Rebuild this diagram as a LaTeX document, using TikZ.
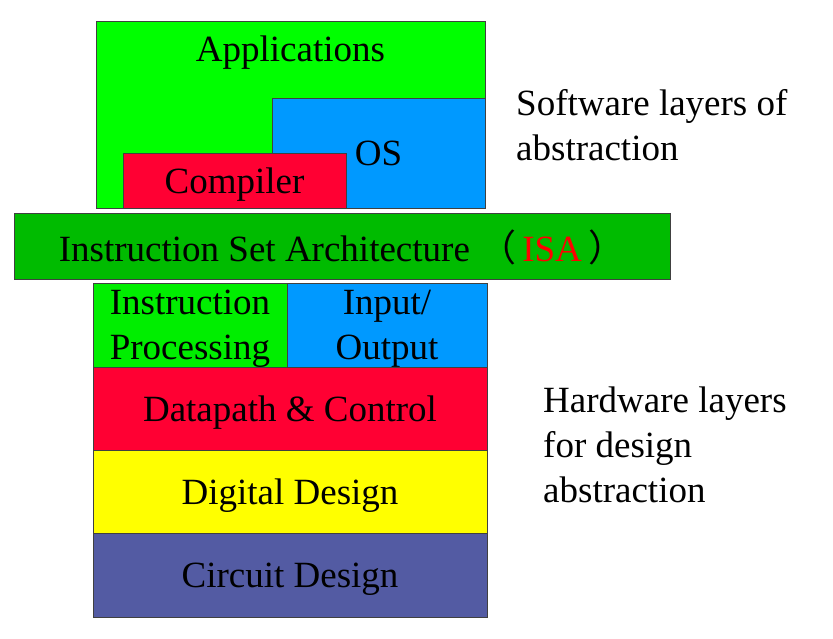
\documentclass[tikz,border=0pt]{standalone}
\usepackage{fontspec}
\setmainfont{Liberation Serif}
\newfontfamily\cjk{Noto Sans CJK SC}
\definecolor{appgreen}{RGB}{0,255,0}
\definecolor{procgreen}{RGB}{0,238,0}
\definecolor{isagreen}{RGB}{0,187,0}
\definecolor{osblue}{RGB}{0,153,255}
\definecolor{layerred}{RGB}{255,0,51}
\definecolor{layeryellow}{RGB}{255,255,0}
\definecolor{circuitblue}{RGB}{83,91,163}
\tikzset{
    layer/.style={draw=black!75, line width=0.8pt, inner sep=0pt, outer sep=0pt,
        anchor=north west, align=center, text depth=0pt},
    sidetext/.style={anchor=west, align=left, inner sep=0pt}
}

\begin{document}
\begin{tikzpicture}[x=1pt, y=-1pt, font=\fontsize{37}{45}\selectfont]
    \useasboundingbox (0,0) rectangle (833,639);
    % software layers
    \node[layer, fill=appgreen, minimum width=389, minimum height=187] (app) at (96,21) {};
    \node (apptext) at ([yshift=-32]app.north) {Applications};
    \node[layer, fill=osblue, minimum width=213, minimum height=110] (os) at (272,98) {OS};
    \node[layer, fill=layerred, minimum width=223, minimum height=55] (comp) at (123,153) {Compiler};
    % ISA
    \node[layer, fill=isagreen, minimum width=656, minimum height=66] (isa) at (14,213)
        {Instruction Set Architecture\ {\cjk（}\,\textcolor{red}{ISA}\,{\cjk）}};
    % hardware layers
    \node[layer, fill=procgreen, minimum width=194, minimum height=84] (proc) at (93,283)
        {Instruction\\Processing};
    \node[layer, fill=osblue, minimum width=200, minimum height=84] (io) at (proc.north east)
        {Input/\\Output};
    \node[layer, fill=layerred, minimum width=394, minimum height=83] (dp) at (proc.south west)
        {Datapath \& Control};
    \node[layer, fill=layeryellow, minimum width=394, minimum height=83] (dig) at (dp.south west)
        {Digital Design};
    \node[layer, fill=circuitblue, minimum width=394, minimum height=84] (circ) at (dig.south west)
        {Circuit Design};
    % side labels
    \node[sidetext] (sw) at (516,125) {Software layers of\\abstraction};
    \node[sidetext] (hw) at (543,445) {Hardware layers\\for design\\abstraction};
\end{tikzpicture}
\end{document}
